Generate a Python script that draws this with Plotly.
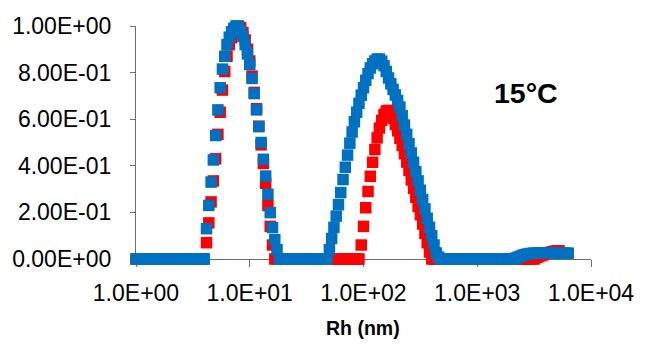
import plotly.graph_objects as go

# Log-spaced size bins (50 per decade), mantissas per decade
mantissa = [1.000, 1.047, 1.096, 1.148, 1.202, 1.259, 1.318, 1.380, 1.445, 1.514,
            1.585, 1.660, 1.738, 1.820, 1.905, 1.995, 2.089, 2.188, 2.291, 2.399,
            2.512, 2.630, 2.754, 2.884, 3.020, 3.162, 3.311, 3.467, 3.631, 3.802,
            3.981, 4.169, 4.365, 4.571, 4.786, 5.012, 5.248, 5.495, 5.754, 6.026,
            6.310, 6.607, 6.918, 7.244, 7.586, 7.943, 8.318, 8.710, 9.120, 9.550]
decades = [1, 10, 100, 1000]
rh_bins = [round(m * d, 4) for d in decades for m in mantissa]

# Red series
red_y = ([0] * 31 +
         [0.07, 0.155, 0.245, 0.335, 0.43, 0.535, 0.63, 0.725, 0.805, 0.87,
          0.92, 0.95, 0.975, 0.992, 1.0, 0.993, 0.972, 0.94, 0.90, 0.85,
          0.785, 0.715, 0.645, 0.57, 0.49, 0.41, 0.325, 0.23, 0.14, 0.06] +
         [0] * 38 +
         [0.06, 0.14, 0.22, 0.29, 0.355, 0.415, 0.47, 0.52, 0.562, 0.595,
          0.62, 0.635, 0.638, 0.625, 0.603, 0.578, 0.55, 0.518, 0.487, 0.452,
          0.416, 0.38, 0.34, 0.303, 0.265, 0.225, 0.19, 0.15, 0.11, 0.07,
          0.03] +
         [0] * 46 +
         [0.006, 0.01, 0.014, 0.018, 0.022, 0.025, 0.028, 0.031, 0.033, 0.035,
          0.035])

# Blue series
blue_y = ([0] * 31 +
          [0.13, 0.23, 0.33, 0.425, 0.53, 0.64, 0.735, 0.815, 0.87, 0.92,
           0.952, 0.975, 0.99, 1.0, 0.995, 0.98, 0.955, 0.92, 0.88, 0.835,
           0.775, 0.71, 0.64, 0.568, 0.50, 0.428, 0.356, 0.278, 0.199, 0.135,
           0.083, 0.04] +
          [0] * 22 +
          [0.04, 0.088, 0.136, 0.184, 0.233, 0.285, 0.341, 0.394, 0.446, 0.497,
           0.545, 0.589, 0.63, 0.668, 0.703, 0.735, 0.767, 0.796, 0.82, 0.838,
           0.85, 0.858, 0.858, 0.849, 0.83, 0.805, 0.777, 0.752, 0.728, 0.704,
           0.68, 0.652, 0.615, 0.575, 0.535, 0.495, 0.455, 0.415, 0.375, 0.335,
           0.295, 0.255, 0.215, 0.175, 0.136, 0.10, 0.06, 0.026, 0.008] +
          [0] * 33 +
          [0.004, 0.008, 0.012, 0.016, 0.019, 0.021, 0.023, 0.024, 0.025, 0.025,
           0.025, 0.025, 0.025, 0.025, 0.025, 0.025, 0.025, 0.025, 0.025, 0.025,
           0.025, 0.025, 0.025, 0.025])

x_tickvals = [1, 10, 100, 1000, 10000]
x_ticktext = ["1.0E+00", "1.0E+01", "1.0E+02", "1.0E+03", "1.0E+04"]
y_tickvals = [0, 0.2, 0.4, 0.6, 0.8, 1.0]
y_ticktext = ["0.00E+00", "2.00E-01", "4.00E-01", "6.00E-01", "8.00E-01", "1.00E+00"]

FONT = "Liberation Sans, Arial, sans-serif"
AXC = "#6e6e6e"

fig = go.Figure()
fig.add_trace(go.Scatter(
    x=rh_bins[:len(red_y)], y=red_y, mode="markers", cliponaxis=False,
    marker=dict(symbol="square", size=11.5, color="#FF0000", line=dict(width=0)),
    showlegend=False))
fig.add_trace(go.Scatter(
    x=rh_bins[:len(blue_y)], y=blue_y, mode="markers", cliponaxis=False,
    marker=dict(symbol="square", size=11.5, color="#0070C0", line=dict(width=0)),
    showlegend=False))

fig.update_layout(
    width=646, height=347,
    margin=dict(l=135, r=49, t=26, b=88),
    paper_bgcolor="white", plot_bgcolor="white",
    font=dict(family=FONT, size=23, color="black"),
    xaxis=dict(type="log", range=[0, 4], tickvals=x_tickvals, ticktext=x_ticktext,
               showline=True, linecolor=AXC, linewidth=1.3, ticks="outside", ticklen=7,
               tickcolor=AXC, tickwidth=1.3, showgrid=False, zeroline=False,
               layer="below traces", ticklabelstandoff=6),
    yaxis=dict(range=[0, 1], tickvals=y_tickvals, ticktext=y_ticktext,
               showline=True, linecolor=AXC, linewidth=1.3, ticks="outside", ticklen=5,
               tickcolor=AXC, tickwidth=1.3, showgrid=False, zeroline=False,
               layer="below traces", ticklabelstandoff=14),
    annotations=[
        dict(text="<b>15°C</b>", xref="paper", yref="paper", x=0.857, y=0.714,
             xanchor="center", yanchor="middle", showarrow=False,
             font=dict(family=FONT, size=28.5, color="black")),
        dict(text="<b>Rh (nm)</b>", xref="paper", yref="paper", x=0.498, y=-0.295,
             xanchor="center", yanchor="middle", showarrow=False,
             font=dict(family=FONT, size=19.5, color="black")),
    ],
)

fig.write_html("out.html")
